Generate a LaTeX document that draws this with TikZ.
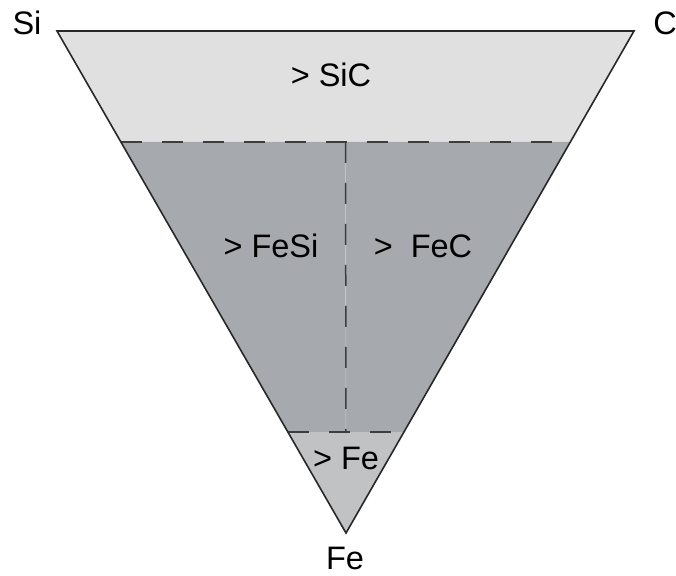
\documentclass[tikz,border=0pt]{standalone}
\usepackage{fontspec}
\setmainfont{Liberation Sans}
\usetikzlibrary{calc}

\definecolor{sicgray}{RGB}{224,224,224}
\definecolor{fexgray}{RGB}{166,169,174}
\definecolor{fegray}{RGB}{192,194,196}
\definecolor{edgegray}{RGB}{40,40,40}

\begin{document}
\begin{tikzpicture}[
    x=1pt, y=-1pt,
    edge/.style = {draw=edgegray, line width=1.6pt, line join=miter},
    border/.style = {draw=edgegray!90, line width=1.5pt, dash pattern=on 21pt off 20pt},
    seam/.style = {draw=gray!35, line width=0.6pt},
    lbl/.style = {font=\fontsize{32.5}{38}\selectfont, inner sep=0pt, text=black},
]
\useasboundingbox (0,0) rectangle (676,575);

%% ── Corners of the diagram ─────────────────────────────────────────────
\coordinate (si) at (57,31);
\coordinate (c)  at (634,31);
\coordinate (fe) at (346,533);

%% Boundary points on the two sides
\coordinate (upL) at ($(si)!0.2211!(fe)$);
\coordinate (upR) at ($(c)!0.2211!(fe)$);
\coordinate (loL) at ($(si)!0.7988!(fe)$);
\coordinate (loR) at ($(c)!0.7988!(fe)$);
\coordinate (upM) at ($(upL)!0.5!(upR)$);
\coordinate (loM) at ($(loL)!0.5!(loR)$);

%% ── Regions ────────────────────────────────────────────────────────────
\fill[sicgray] (si) -- (c) -- (upR) -- (upL) -- cycle;
\fill[fexgray] (upL) -- (upR) -- (loR) -- (loL) -- cycle;
\fill[fegray]  (loL) -- (loR) -- (fe) -- cycle;

%% Dashed boundaries
\draw[seam] (upM) -- (loM);
\draw[border] (upL) -- (upR);
\draw[border] (upM) -- (loM);
\draw[border] (loL) -- (loR);

%% Outline
\draw[edge] (si) -- (c) -- (fe) -- cycle;

%% ── Labels ─────────────────────────────────────────────────────────────
\node[lbl] (lsi)   at (27,23)  {Si};
\node[lbl] (lc)    at (665,23) {C};
\node[lbl] (lfe)   at (345,558) {Fe};
\node[lbl] (lsic)  at (331,75)  {> SiC};
\node[lbl] (lfesi) at (271,246) {> FeSi};
\node[lbl] (lfec)  at (423,246) {>\ \ FeC};
\node[lbl] (lfex)  at (346,458) {> Fe};

\end{tikzpicture}
\end{document}
